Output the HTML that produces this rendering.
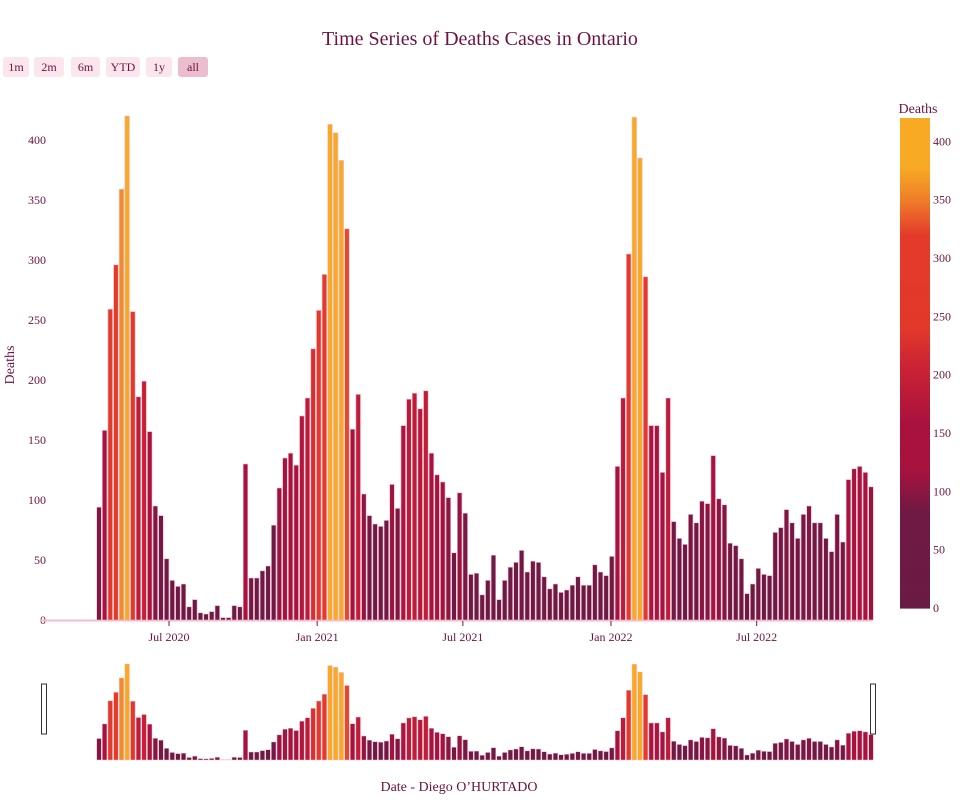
<!DOCTYPE html>
<html><head><meta charset="utf-8">
<style>
body{margin:0;background:#fff;width:960px;height:800px;overflow:hidden;font-family:"Liberation Serif",serif;}
svg text{font-family:"Liberation Serif",serif;fill:#6e1340;}
</style></head>
<body>
<svg id="chart" width="960" height="800" xmlns="http://www.w3.org/2000/svg">
<text x="480" y="45" text-anchor="middle" font-size="20">Time Series of Deaths Cases in Ontario</text>
<g id="buttons"></g>
<g id="yaxis"></g>
<g id="xaxis"></g>
<g id="bars"></g>
<g id="slider"></g>
<g id="cbar"></g>
<text transform="translate(14,365) rotate(-90)" text-anchor="middle" font-size="14">Deaths</text>
<text x="459" y="791" text-anchor="middle" font-size="14">Date - Diego O’HURTADO</text>
</svg>
<script>
const startDate = "2020-04-05";
const deaths = [94,158,259,296,359,420,257,186,199,157,95,87,51,33,28,30,11,17,6,5,7,12,2,2,12,11,130,35,35,
41,45,79,110,135,139,129,170,185,226,258,288,413,406,383,326,159,188,105,87,80,78,83,113,93,162,184,189,176,191,139,121,115,102,56,106,89,38,
39,21,33,54,17,33,44,48,58,40,49,48,36,26,30,23,25,29,36,29,29,46,40,37,53,128,185,305,419,385,286,162,162,123,185,82,
68,63,88,81,99,97,137,101,96,64,62,51,22,30,43,38,37,73,77,92,81,68,88,95,81,81,68,57,88,65,117,126,128,123,111];
const yTicks = [0,50,100,150,200,250,300,350,400];
const xTickDates = ["2020-07-01","2021-01-01","2021-07-01","2022-01-01","2022-07-01"];
const xTickLabels = ["Jul 2020","Jan 2021","Jul 2021","Jan 2022","Jul 2022"];
const cbTicks = [0,50,100,150,200,250,300,350,400];
const buttonLabels = ["1m","2m","6m","YTD","1y","all"];

const NS="http://www.w3.org/2000/svg";
function mk(tag,attrs,parent,txt){const e=document.createElementNS(NS,tag);for(const k in attrs)e.setAttribute(k,attrs[k]);if(txt!==undefined)e.textContent=txt;parent.appendChild(e);return e;}
const DAY=86400000;
const refT=Date.parse("2020-04-05"), pxPerDay=0.805;
function xs(t){return 99+(t-refT)/DAY*pxPerDay;}
const base=620, ppu=1.2, cmax=420;
function ys(v){return base-v*ppu;}
const stops=[[0,[106,27,68]],[0.2,[112,25,68]],[0.28,[166,19,62]],[0.38,[170,18,62]],[0.5,[205,36,52]],[0.57,[226,57,43]],[0.76,[227,58,43]],[0.84,[240,130,40]],[0.9,[248,170,37]],[1,[248,170,37]]];
function color(v){const f=Math.max(0,Math.min(1,v/cmax));for(let i=1;i<stops.length;i++){if(f<=stops[i][0]){const a=stops[i-1],b=stops[i];const t=(f-a[0])/(b[0]-a[0]||1);const c=a[1].map((x,j)=>Math.round(x+(b[1][j]-x)*t));return `rgb(${c})`;}}return 'rgb(248,170,37)';}
const t0=Date.parse(startDate);
const ya=document.getElementById('yaxis');
yTicks.forEach(v=>{const t=mk('text',{x:46,y:ys(v)+4,'text-anchor':'end','font-size':12},ya,String(v));

});
const bl=mk('line',{x1:40,x2:872,y1:base+0.5,y2:base+0.5,stroke:'#f2bdd0','stroke-width':2},ya);


const xa=document.getElementById('xaxis');
xTickDates.forEach((d,i)=>{const x=xs(Date.parse(d));
const tk=mk('line',{x1:x,x2:x,y1:621,y2:626,stroke:'#6e1340'},xa);


const t=mk('text',{x:x,y:641,'text-anchor':'middle','font-size':12},xa,xTickLabels[i]);

});
const bg=document.getElementById('bars'), sg=document.getElementById('slider');
const w=4.6;
const sBase=760, sPpu=96/cmax;
deaths.forEach((v,i)=>{const x=xs(t0+i*7*DAY);
const r=mk('rect',{x:x-w/2,y:ys(v),width:w,height:v*ppu,fill:color(v),stroke:'#f5bccd','stroke-width':0.6},bg);


const s=mk('rect',{x:x-w/2,y:sBase-v*sPpu,width:w,height:v*sPpu,fill:color(v),stroke:'#f5bccd','stroke-width':0.5},sg);

});
[44,873].forEach(x=>{const h=mk('rect',{x:x-2.5,y:684,width:5,height:50,fill:'#fff',stroke:'#333','stroke-width':1},sg);

});
const cb=document.getElementById('cbar');
const cTop=118,cBot=608,cpp=(cBot-cTop)/cmax;
for(let v=0;v<cmax;v+=2){mk('rect',{x:900,y:cBot-(v+2)*cpp,width:30,height:2*cpp+0.6,fill:color(v+1)},cb);}
const ct=mk('text',{x:918,y:113,'text-anchor':'middle','font-size':14},cb,'Deaths');


cbTicks.forEach(v=>{const t=mk('text',{x:933,y:cBot-v*cpp+4,'font-size':12},cb,String(v));

});
const bgp=document.getElementById('buttons');
const bx=[3,34,71,106,146,178], bw=[26,30,29,34,26,30];
buttonLabels.forEach((l,i)=>{const g=mk('g',{},bgp);


mk('rect',{x:bx[i],y:57,width:bw[i],height:20,rx:3,fill:l==='all'?'#ecbccf':'#fbe6ee'},g);
mk('text',{x:bx[i]+bw[i]/2,y:71,'text-anchor':'middle','font-size':12},g,l);});
</script>
</body></html>
